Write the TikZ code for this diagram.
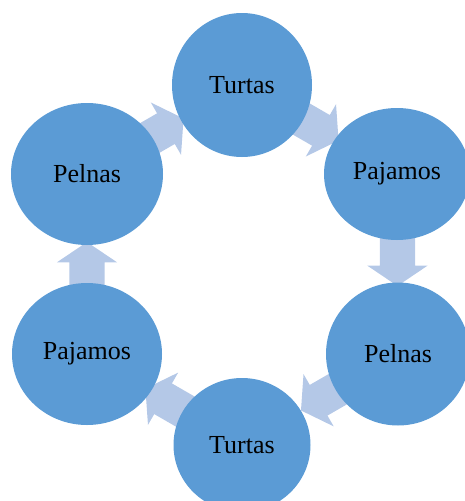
\documentclass[tikz,border=0pt]{standalone}
\usepackage{fontspec}
\setmainfont{Liberation Serif}
\usetikzlibrary{shapes.geometric,shapes.arrows,calc,backgrounds}
\definecolor{bubblefill}{HTML}{5B9BD5}
\definecolor{flowfill}{HTML}{B4C8E7}
\tikzset{
  bubble/.style={ellipse, fill=bubblefill, inner sep=0pt,
    font=\fontsize{26}{30}\selectfont},
  flow/.style={single arrow, fill=flowfill, inner xsep=0pt, inner ysep=17.5pt,
    minimum height=50pt,
    single arrow head extend=12.5pt, single arrow tip angle=112}
}
\begin{document}
\begin{tikzpicture}[x=1pt,y=-1pt]
  \useasboundingbox (0,0) rectangle (465,501);
  \node (turtasT) at (242,85) [bubble, minimum width=140pt, minimum height=144pt] {Turtas};
  \node (pajamosR) at (397,174) [bubble, minimum width=146pt, minimum height=132pt] {Pajamos};
  \node (pelnasR) at (398,354) [bubble, minimum width=144pt, minimum height=143pt] {Pelnas};
  \node (turtasB) at (242,445) [bubble, minimum width=137pt, minimum height=134pt] {Turtas};
  \node (pajamosL) at (87,354) [bubble, minimum width=150pt, minimum height=142pt] {Pajamos};
  \node (pelnasL) at (87,174) [bubble, minimum width=152pt, minimum height=142pt] {Pelnas};
  \begin{scope}[on background layer]
    \node (f1) at ($(pelnasL)!0.45!(turtasT)$) [flow, rotate=30] {};
    \node (f2) at ($(turtasT)!0.45!(pajamosR)$) [flow, rotate=-30] {};
    \node (f3) at ($(pajamosR)!0.45!(pelnasR)$) [flow, rotate=-90] {};
    \node (f4) at ($(pelnasR)!0.45!(turtasB)$) [flow, rotate=210] {};
    \node (f5) at ($(turtasB)!0.45!(pajamosL)$) [flow, rotate=150] {};
    \node (f6) at ($(pajamosL)!0.45!(pelnasL)$) [flow, rotate=90] {};
  \end{scope}
\end{tikzpicture}
\end{document}
